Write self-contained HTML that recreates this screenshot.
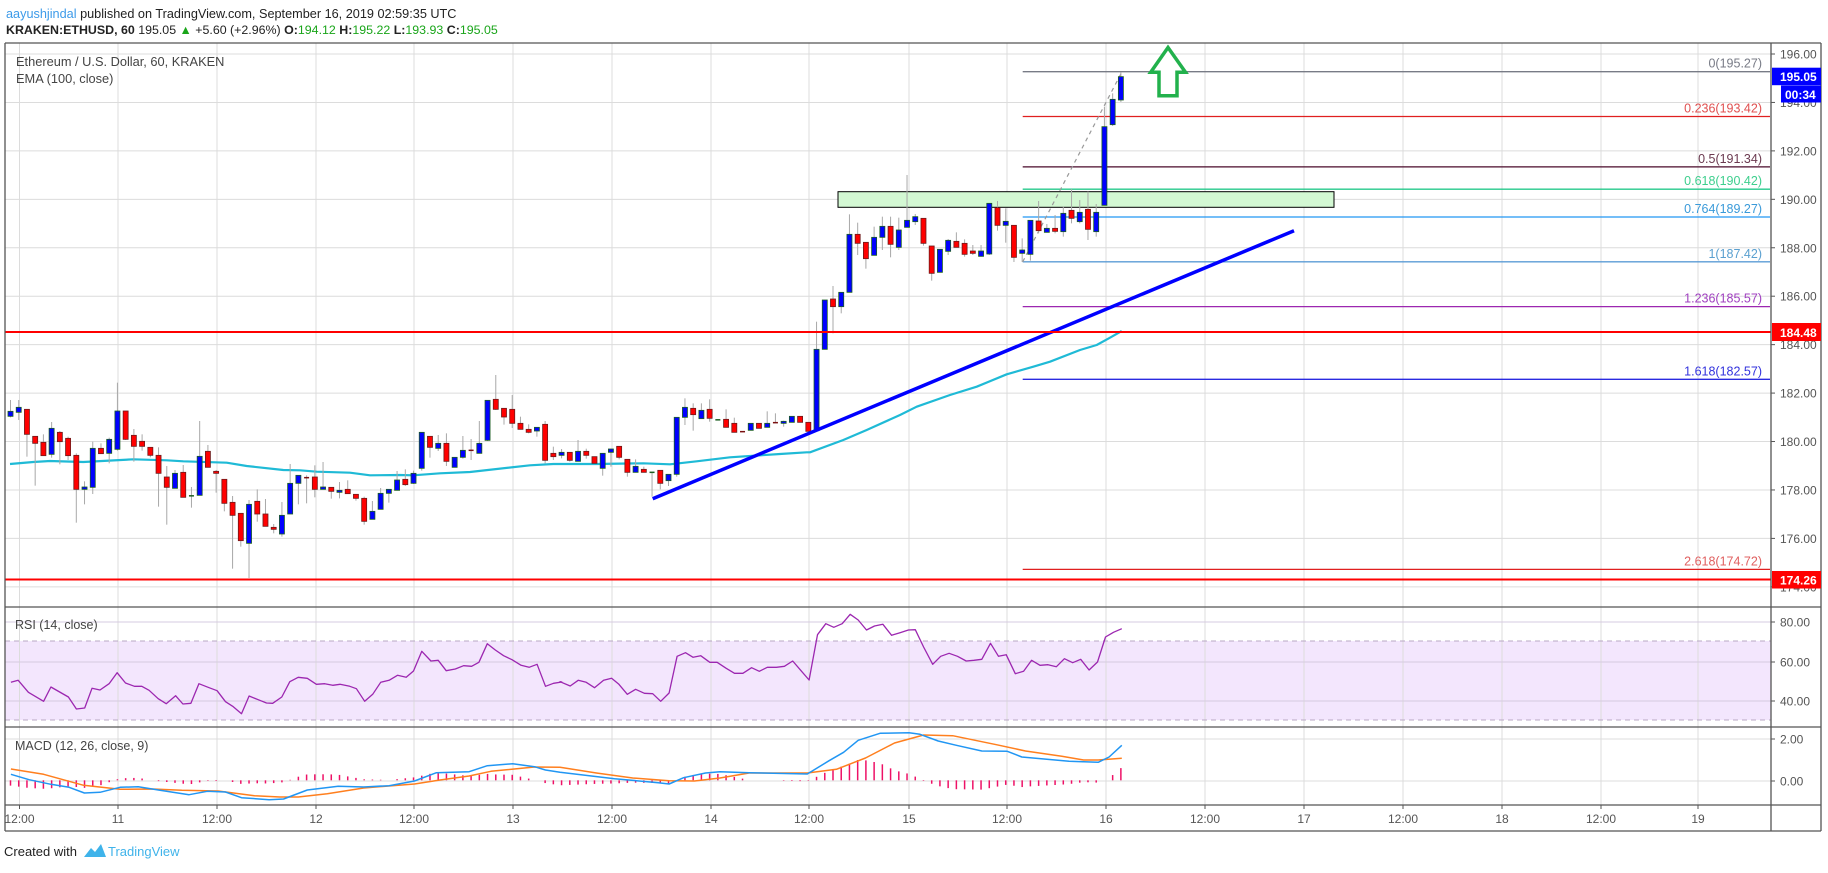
<!DOCTYPE html>
<html><head><meta charset="utf-8">
<style>
html,body{margin:0;padding:0;background:#fff;}
body{width:1828px;height:868px;overflow:hidden;font-family:"Liberation Sans",sans-serif;}
svg text{font-family:"Liberation Sans",sans-serif;}
</style></head>
<body>
<svg id="s" width="1828" height="868" viewBox="0 0 1828 868" xmlns="http://www.w3.org/2000/svg">
<rect width="1828" height="868" fill="#fff"/>
<text x="6" y="18" font-size="12.7" fill="#222"><tspan fill="#3d9be9">aayushjindal</tspan> published on TradingView.com, September 16, 2019 02:59:35 UTC</text>
<text x="6" y="34" font-size="12.4" fill="#222"><tspan font-weight="bold">KRAKEN:ETHUSD, 60</tspan> 195.05 <tspan fill="#1aa51a">▲</tspan> +5.60 (+2.96%) <tspan font-weight="bold">O:</tspan><tspan fill="#1aa51a">194.12</tspan> <tspan font-weight="bold">H:</tspan><tspan fill="#1aa51a">195.22</tspan> <tspan font-weight="bold">L:</tspan><tspan fill="#1aa51a">193.93</tspan> <tspan font-weight="bold">C:</tspan><tspan fill="#1aa51a">195.05</tspan></text>
<g id="g"></g>
<text x="4" y="856" font-size="13" fill="#222">Created with</text>
<path d="M84 857 l7 -9 l4 4 l6 -8 l5 13 z" fill="#3fb3ea"/>
<text x="108" y="856" font-size="13" fill="#3fb3ea">TradingView</text>
</svg>
<script>
(function(){
var g=document.getElementById('g');var h='';
function L(x1,y1,x2,y2,c,w,extra){h+='<line x1="'+x1+'" y1="'+y1+'" x2="'+x2+'" y2="'+y2+'" stroke="'+c+'" stroke-width="'+(w||1)+'" '+(extra||'')+'/>';}
function T(x,y,t,c,s,a,extra){h+='<text x="'+x+'" y="'+y+'" fill="'+c+'" font-size="'+(s||12)+'" '+(a?'text-anchor="'+a+'"':'')+' '+(extra||'')+'>'+t+'</text>';}
function R(x,y,w,hh,f,st,extra){h+='<rect x="'+x+'" y="'+y+'" width="'+w+'" height="'+hh+'" fill="'+f+'" '+(st?'stroke="'+st+'"':'')+' '+(extra||'')+'/>';}
function P(pts,c,w,extra){h+='<polyline fill="none" stroke="'+c+'" stroke-width="'+w+'" stroke-linejoin="round" points="'+pts.map(function(p){return p[0].toFixed(1)+','+p[1].toFixed(1)}).join(' ')+'" '+(extra||'')+'/>';}
var XL=5,XR=1771,TOP=43,MB=607,RB=727,CB=805,AB=831,OR=1821;
function py(p){return 54+(196-p)*24.22;}
R(XL,641,XR-XL,79,'#f3e6fd');
var tl=[['12:00',19.5],['11',118],['12:00',217],['12',316],['12:00',414],['13',513],['12:00',612],['14',711],['12:00',809],['15',909],['12:00',1007],['16',1106],['12:00',1205],['17',1304],['12:00',1403],['18',1502],['12:00',1601],['19',1698]];
tl.forEach(function(t){L(t[1],TOP,t[1],CB,'#dcdcdc',1);L(t[1],CB,t[1],CB+4,'#555',1);T(t[1],823,t[0],'#555',12,'middle');});
for(var p=174;p<=196;p+=2){var y=py(p);L(XL,y,XR,y,'#dcdcdc',1);}
[622,662,701].forEach(function(y){L(XL,y,XR,y,'#d6cbe0',1);});
L(XL,641,XR,641,'#b8a8c4',1,'stroke-dasharray="5,4"');L(XL,720,XR,720,'#b8a8c4',1,'stroke-dasharray="5,4"');
[739,781].forEach(function(y){L(XL,y,XR,y,'#dcdcdc',1);});
R(838,191.7,496,15.6,'#d3f8d3','#000','stroke-width="1"');
var fib=[['0(195.27)',71.7,'#787b86','#787b86'],['0.236(193.42)',116.5,'#e02020','#e05050'],['0.5(191.34)',166.9,'#4a0a2a','#6b3a50'],['0.618(190.42)',189.2,'#26c98b','#3ecf8e'],['0.764(189.27)',217,'#2196f3','#3a9ad9'],['1(187.42)',261.8,'#5b9cd6','#5aa0d0'],['1.236(185.57)',306.6,'#9c27b0','#a040c0'],['1.618(182.57)',379.3,'#2a2ae0','#3333dd'],['2.618(174.72)',569.4,'#e02020','#e06060']];
fib.forEach(function(f){L(1022.7,f[1],XR-1,f[1],f[2],1.3);T(1762,f[1]-4,f[0],f[3],12.5,'end');});
L(1022.7,261.8,1122,71.7,'#999',1.2,'stroke-dasharray="4,4"');
var e6=[[30,372],[100,366],[150,363],[250,366],[400,358],[500,361],[550,364],[680,368],[740,378],[850,390],[900,391],[950,395],[1050,398],[1110,406],[1200,405]].map(function(p){return [p[0]/3,340+p[1]/3]});
var e7=[[100,406],[180,400],[270,396],[450,376],[520,372],[650,372],[790,370],[870,373],[950,364],[1050,352],[1200,342],[1280,337]].map(function(p){return [380+p[0]/3,340+p[1]/3]});
var e8=[[30,1237],[130,1200],[200,1170],[300,1125],[350,1100],[450,1065],[530,1040],[620,1003],[700,980],[750,965],[840,930],[890,915],[930,893],[965,873]].map(function(p){return [800+p[0]/3,40+p[1]/3]});
P(e6.concat(e7,e8),'#1fbad6',2.2);
var A=[[214,229,180,232,'u'],[202,217,180,240,'u'],[208,283,208,350,'d'],[289,310,289,437,'d'],[307,347,283,347,'d'],[265,343,246,353,'u'],[277,305,273,373,'d'],[295,347,290,360,'d'],[346,448,340,548,'d'],[441,448,424,493,'u'],[325,442,305,462,'u'],[325,341,310,341,'d'],[298,340,293,370,'u'],[213,328,128,332,'u'],[213,298,213,300,'d'],[286,319,267,365,'d'],[304,319,283,332,'d'],[322,346,322,352,'d'],[346,400,322,500,'d'],[411,442,378,554,'d'],[400,445,390,445,'u'],[397,472,375,472,'d'],[466,469,441,503,'g'],[349,466,243,466,'u'],[334,382,315,382,'d'],[394,400,390,458,'d'],[418,490,418,514,'d'],[487,526,468,686,'d'],[520,602,520,620,'d'],[493,610,480,714,'u'],[484,522,448,545,'d'],[522,559,477,559,'d'],[562,568,552,580,'d'],[526,582,486,590,'u'],[430,522,372,522,'u'],[406,430,406,493,'u'],[411,415,406,490,'r'],[411,448,376,472,'d'],[441,448,366,448,'u'],[442,454,442,476,'d'],[451,457,426,475,'u'],[448,461,421,461,'d'],[463,475,463,482,'d'],[475,544,470,554,'d'],[514,538,483,538,'u'],[460,508,444,508,'u'],[448,460,448,488,'u'],[420,451,393,451,'u'],
[418,434,388,438,'d'],[400,430,392,432,'u'],[277,385,277,392,'u'],[289,322,289,353,'d'],[310,325,285,333,'u'],[310,364,280,378,'d'],[352,382,352,382,'u'],[331,352,288,356,'u'],[330,332,297,360,'r'],[310,340,243,340,'u'],[181,301,181,303,'u'],[178,208,105,210,'d'],[205,231,205,254,'d'],[208,250,165,264,'d'],[250,268,230,268,'d'],[268,277,253,280,'d'],[262,273,262,290,'u'],[253,361,243,370,'d'],[340,350,320,360,'d'],[337,346,327,355,'u'],[337,361,337,365,'d'],[334,364,300,364,'u'],[334,346,326,356,'d'],[350,370,350,370,'d'],[340,385,340,407,'u'],[327,337,327,380,'u'],[319,352,319,358,'d'],[358,397,358,410,'d'],[379,397,358,397,'u'],[388,397,380,397,'d'],[396,398,396,470,'g'],[391,430,391,448,'d'],[403,422,403,438,'u'],[232,403,232,410,'u'],[202,232,175,255,'u'],[205,224,190,272,'d'],[211,236,190,236,'u'],[208,235,178,245,'d'],[238,241,238,241,'g'],[238,262,208,262,'d'],[250,277,233,277,'d'],[274,276,274,276,'r'],[250,271,250,271,'u'],[250,265,250,265,'d'],[250,262,214,262,'u'],[247,249,220,249,'r'],[244,250,242,260,'u'],[229,247,229,247,'u'],[229,247,229,247,'d'],[247,274,247,274,'d']];
var B=[[928,1172,845,1172,'u'],[780,928,780,928,'u'],[777,800,738,880,'d'],[757,800,757,820,'u'],[583,757,523,757,'u'],[583,610,548,645,'d'],[607,656,607,686,'d'],[592,646,560,646,'u'],[559,592,530,630,'u'],[559,613,530,652,'d'],[570,622,533,630,'u'],[541,562,405,562,'u'],[530,545,522,555,'u'],[535,610,535,617,'d'],[618,700,618,722,'d'],[628,697,628,697,'u'],[601,634,597,645,'u'],[604,622,577,622,'d'],[610,643,598,650,'d'],[633,640,615,645,'d'],[633,649,615,650,'u'],[490,642,490,645,'u'],[503,556,483,572,'d'],[544,556,505,608,'u'],[556,652,556,666,'d'],[630,640,595,666,'u'],[541,643,541,662,'u'],[543,572,483,580,'d'],[565,577,552,577,'u'],[565,574,525,580,'d'],[520,575,500,590,'u'],[511,535,447,550,'d'],[517,545,480,550,'u'],[508,568,455,600,'d'],[517,575,492,590,'u'],[260,496,200,496,'u'],[178,254,160,258,'u'],[110,180,97,186,'u']];
var C=A.map(function(c){return [340+c[0]/3,340+c[1]/3,340+c[2]/3,340+c[3]/3,c[4]]}).concat(B.map(function(c){return [40+c[0]/3,40+c[1]/3,40+c[2]/3,40+c[3]/3,c[4]]}));
C.forEach(function(c,i){var x=10.5+i*8.225;
 L(x,c[2],x,c[3],'#a8a8a8',1);
 if(c[4]=='g'||c[4]=='r'){L(x-2.5,(c[0]+c[1])/2,x+2.5,(c[0]+c[1])/2,c[4]=='g'?'#1b5e20':'#7a1010',1.5);}
 else{var hh=Math.max(c[1]-c[0],1.5);R(x-2.5,c[0],5,hh,c[4]=='u'?'#0000ff':'#ff0000',c[4]=='u'?'#1b5e20':'#6d1a1a','stroke-width="0.8"');}
});
L(652.7,498.7,1294,230.7,'#0000ff',3.5);
L(XL,332,XR,332,'#ff0000',2);L(XL,579.5,XR,579.5,'#ff0000',2);
h+='<path d="M1168 47.5 L1185.5 72.3 L1177 72.3 L1177 95.7 L1159 95.7 L1159 72.3 L1150.7 72.3 Z" fill="#fff" stroke="#22b14c" stroke-width="3.5" stroke-linejoin="miter"/>';
var r9=[[30,226],[50,220],[78,256],[120,283],[140,240],[188,270],[210,306],[233,303],[253,244],[275,249],[300,230],[322,197],[345,228],[370,238],[390,238],[410,250],[435,275],[457,290],[483,266],[503,291],[525,289],[547,230],[575,242],[597,251],[620,284],[640,298],[664,320],[685,267],[710,278],[733,288],[750,289],[775,270],[797,224],[820,211],[845,214],[870,232],[893,230],[915,235],[935,232],[962,238],[980,245],[1003,283],[1025,262],[1047,226],[1070,220],[1093,205],[1117,211],[1137,192],[1160,133],[1185,162],[1205,160],[1227,191],[1252,186],[1275,176],[1297,178],[1317,166],[1340,110],[1362,129],[1385,146],[1408,158],[1433,175],[1455,181],[1477,172],[1500,238],[1522,229],[1545,225]].map(function(p){return [p[0]/2.75,607+p[1]/3]});
var r10=[[0,224],[28,237],[50,220],[72,226],[95,242],[120,220],[142,214],[162,232],[185,262],[208,247],[232,259],[255,260],[277,283],[300,258],[322,148],[345,137],[366,151],[387,146],[412,166],[432,166],[457,184],[480,199],[503,199],[527,182],[548,193],[570,181],[595,181],[617,178],[640,162],[662,190],[685,219],[708,83],[731,50],[753,61],[776,50],[798,22],[820,39],[843,69],[865,57],[888,52],[912,85],[935,77],[958,69],[977,68],[1000,120],[1025,172],[1047,148],[1070,139],[1093,148],[1117,162],[1138,160],[1160,157],[1184,109],[1206,148],[1227,143],[1252,200],[1275,193],[1297,160],[1320,175],[1342,173],[1365,179],[1387,155],[1410,167],[1432,157],[1455,189],[1478,165],[1500,90],[1522,76],[1545,65]].map(function(p){return [560+p[0]/2.75,607+p[1]/3]});
P(r9.concat(r10),'#9c27b0',1.3);
function m9(a){return a.map(function(p){return [p[0]/2.75,607+p[1]/3]})}
function m10(a){return a.map(function(p){return [560+p[0]/2.75,607+p[1]/3]})}
var bl=m9([[30,502],[80,518],[140,532],[190,541],[232,558],[275,556],[330,541],[380,539],[440,550],[520,563],[570,553],[620,555],[664,572],[740,578],[780,576],[845,549],[930,538],[1000,540],[1070,536],[1140,522],[1200,497],[1290,494],[1340,476],[1410,470],[1470,479],[1500,489]]).concat(m10([[0,496],[150,515],[270,527],[300,531],[340,512],[400,498],[440,494],[520,497],[680,501],[740,461],[780,436],[820,400],[880,379],[960,377],[990,382],[1040,402],[1090,415],[1160,432],[1230,433],[1270,450],[1400,463],[1480,466],[1510,450],[1545,415]]));
var orr=m9([[30,486],[120,502],[230,535],[330,547],[420,546],[500,550],[600,552],[700,566],[770,570],[820,570],[900,560],[1000,543],[1140,531],[1210,519],[1290,507],[1350,493],[1470,480]]).concat(m10([[0,481],[100,498],[200,513],[300,521],[370,522],[440,513],[520,498],[680,498],[760,487],[840,453],[920,408],[1000,384],[1080,386],[1200,413],[1280,432],[1380,448],[1440,459],[1480,459],[1545,454]]));
function interp(a,x){if(x<=a[0][0])return a[0][1];for(var i=1;i<a.length;i++){if(x<=a[i][0]){var t=(x-a[i-1][0])/(a[i][0]-a[i-1][0]);return a[i-1][1]+t*(a[i][1]-a[i-1][1]);}}return a[a.length-1][1];}
var Z=780.3;
for(var i=0;i<136;i++){var x=10.5+i*8.225;var d=interp(bl,x)-interp(orr,x);if(Math.abs(d)>0.4)L(x,Z,x,Z+d,'#ee1166',1.5);}
P(orr,'#ff7f1e',1.5);P(bl,'#2196f3',1.5);
T(16,66,'Ethereum / U.S. Dollar, 60, KRAKEN','#444',12.8);
T(16,83,'EMA (100, close)','#444',12.8);
T(15,629,'RSI (14, close)','#444',12.5);
T(15,750,'MACD (12, 26, close, 9)','#444',12.5);
L(XL,TOP,OR,TOP,'#555',1.3);L(XL,TOP,XL,AB,'#555',1.3);L(XR,TOP,XR,AB,'#555',1.3);L(OR,TOP,OR,AB,'#555',1.3);
L(XL,MB,OR,MB,'#555',1.3);L(XL,RB,OR,RB,'#555',1.3);L(XL,CB,OR,CB,'#555',1.3);L(XL,AB,OR,AB,'#555',1.3);
for(var p=174;p<=196;p+=2){var y=py(p);L(XR,y,XR+4,y,'#555',1);T(1780,y+4.5,p.toFixed(2),'#555',12);}
[[80,622],[60,662],[40,701]].forEach(function(a){L(XR,a[1],XR+4,a[1],'#555',1);T(1780,a[1]+4.5,a[0].toFixed(2),'#555',12);});
[[2,739],[0,781]].forEach(function(a){L(XR,a[1],XR+4,a[1],'#555',1);T(1780,a[1]+4.5,a[0].toFixed(2),'#555',12);});
R(XR+1,67.7,49,17.5,'#0000ff');T(1780,81,'195.05','#fff',12,null,'font-weight="bold"');
R(1781,85.5,40,17,'#0000ff');T(1785,99,'00:34','#fff',12,null,'font-weight="bold"');
R(XR+1,323,49,18,'#ff0000');T(1780,337,'184.48','#fff',12,null,'font-weight="bold"');
R(XR+1,571,49,17.5,'#ff0000');T(1780,584.5,'174.26','#fff',12,null,'font-weight="bold"');
g.innerHTML=h;
})();
</script>
</body></html>
